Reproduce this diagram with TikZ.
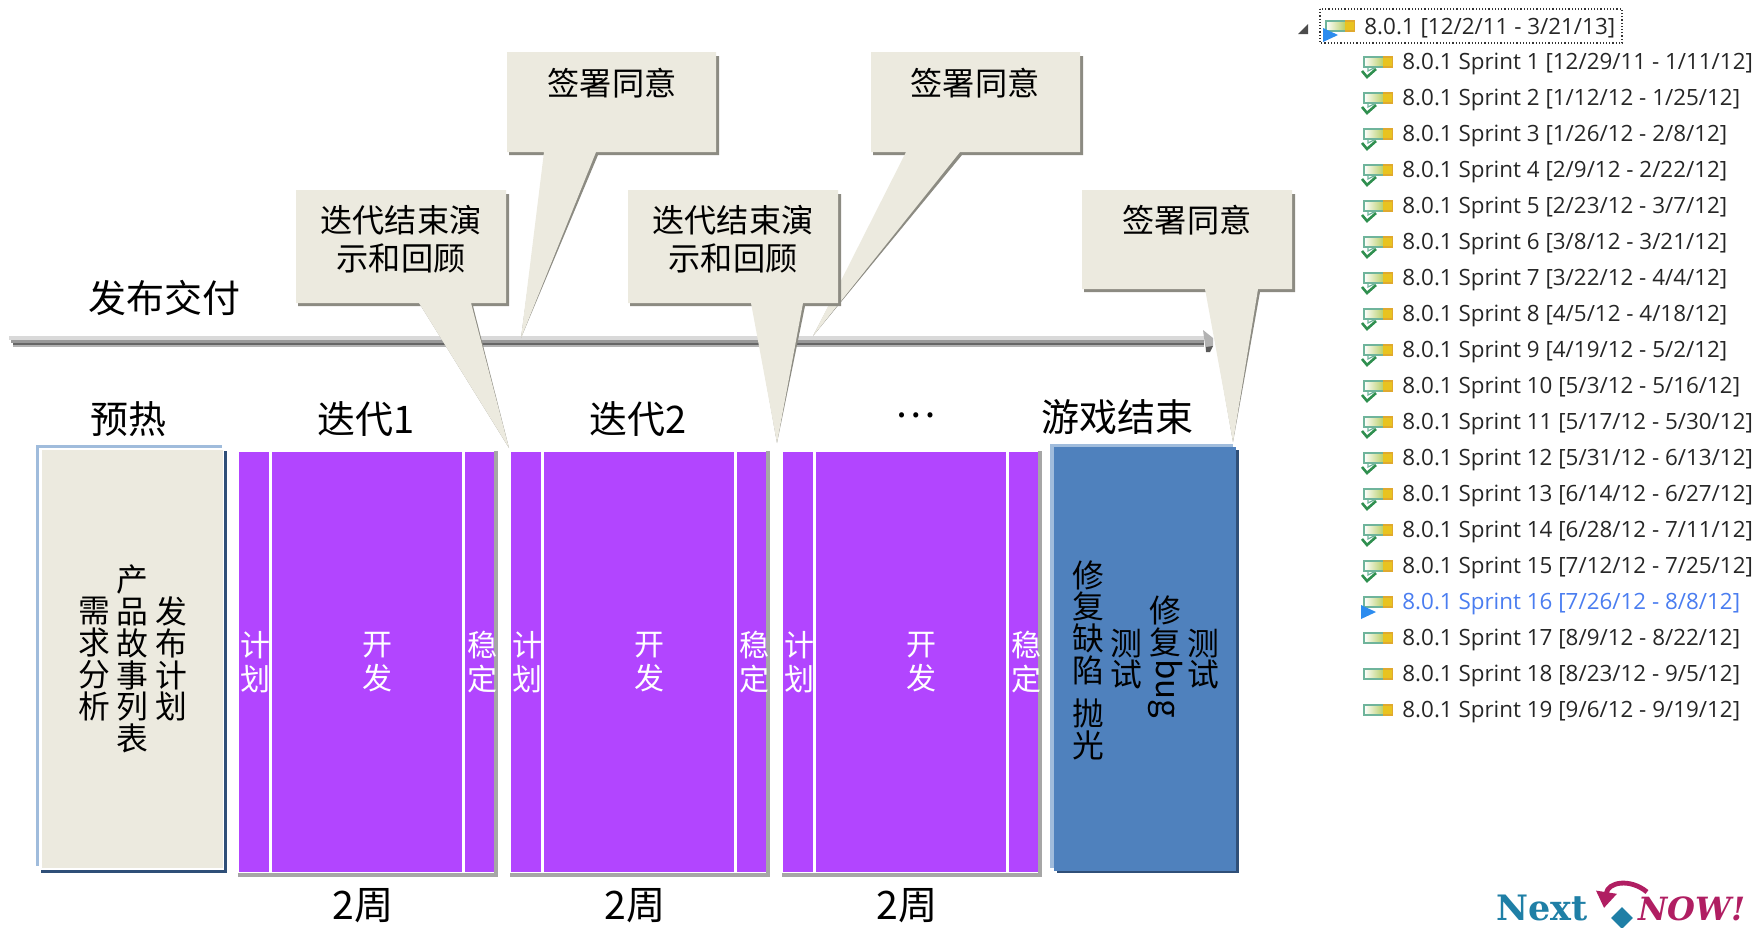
\documentclass[tikz,border=0pt]{standalone}
\usepackage{fontspec}
\newfontfamily\cjk{Noto Sans CJK SC}
\newfontfamily\treefont{Open Sans}
\newfontfamily\logofont{DejaVu Serif}
\usetikzlibrary{positioning,shapes.geometric,arrows.meta}
\definecolor{creamfill}{HTML}{ECEADF}
\definecolor{creamedge}{HTML}{8C8B82}
\definecolor{sprintfill}{HTML}{B245FF}
\definecolor{sprintedge}{HTML}{A6A6A6}
\definecolor{endfill}{HTML}{4F81BD}
\definecolor{lightedge}{HTML}{A0BCDC}
\definecolor{darkedge}{HTML}{2F4F78}
\definecolor{barteal}{HTML}{6FB49B}
\definecolor{barorange}{HTML}{E0A92E}
\definecolor{barmid}{HTML}{B9CF6B}
\definecolor{checkgreen}{HTML}{2F8F4F}
\definecolor{playblue}{HTML}{2C8CEF}
\definecolor{rowblue}{HTML}{4A7DF0}
\definecolor{logoblue}{HTML}{1F7FA6}
\definecolor{logored}{HTML}{B01E62}
\tikzset{
  heading/.style={font=\cjk\fontsize{19}{19}\selectfont,inner sep=0pt},
  bubble/.style={font=\cjk\fontsize{16.1}{19}\selectfont,inner sep=0pt,align=center},
  upright/.style={font=\cjk\fontsize{15.9}{15.9}\selectfont,inner sep=0pt,align=center},
  phase/.style={font=\cjk\fontsize{15}{16.8}\selectfont,inner sep=0pt,align=center,text=white},
  treerow/.style={font=\treefont\fontsize{11.2}{12}\selectfont,inner sep=0pt,anchor=west,text=black!85},
}
% one speech bubble: corners, then the two tail feet and the tip
\newcommand{\speech}[8]{
  \fill[creamedge] (#1+2,#2+4) -- (#3+3,#2+4) -- (#3+3,#4+3) -- (#6+2,#4+3) -- (#7,#8) -- (#5+2,#4+3) -- (#1+2,#4+3) -- cycle;
  \fill[creamfill] (#1,#2) -- (#3,#2) -- (#3,#4) -- (#6,#4) -- (#7,#8) -- (#5,#4) -- (#1,#4) -- cycle;
}
\newcommand{\sprintbar}[2]{
  \shade[left color=white,right color=barmid] (#1+1,#2-4.5) rectangle (#1+20,#2+4.5);
  \fill[barorange!70!yellow] (#1+20,#2-4.5) rectangle (#1+29,#2+4.5);
  \draw[barteal,line width=.7pt] (#1+20,#2-5) -- (#1+1,#2-5) -- (#1+1,#2+5) -- (#1+20,#2+5);
  \draw[barorange,line width=.7pt] (#1+20,#2-5) -- (#1+29.5,#2-5) -- (#1+29.5,#2+5) -- (#1+20,#2+5);
}
\begin{document}
\begin{tikzpicture}[x=.5pt,y=-.5pt]
\useasboundingbox (0,0) rectangle (1754,927);

% delivery line
\fill[black!15] (9,336) rectangle (1204,340);
\fill[black!40] (11,340) rectangle (1204,343);
\fill[black!60] (13,343) rectangle (1204,345);
\fill[black!30] (13,345) rectangle (1204,347);
\fill[black!30] (1203,330) -- (1213,338) -- (1213,346) -- (1206,352) -- cycle;
\fill[black!65] (1206,347) -- (1213,346) -- (1210,352) -- (1206,352) -- cycle;
\node (delivery) at (164,298) [heading] {发布交付};

% bubbles
\speech{871}{52}{1080}{152}{906}{960}{813}{336}
\speech{507}{52}{716}{152}{544}{596}{521}{338}
\speech{296}{190}{506}{303}{419}{471}{509}{448}
\speech{628}{190}{838}{303}{751}{803}{777}{443}
\speech{1082}{190}{1292}{289}{1205}{1258}{1233}{442}
\node (sign1) at (612,83) [bubble] {签署同意};
\node (sign2) at (975,83) [bubble] {签署同意};
\node (sign3) at (1187,220) [bubble] {签署同意};
\node (demo1) at (401,239) [bubble] {迭代结束演\\示和回顾};
\node (demo2) at (733,239) [bubble] {迭代结束演\\示和回顾};

% warm up box
\fill[lightedge] (36,445) rectangle (222,866);
\fill[darkedge] (41,451) rectangle (227,873);
\fill[white] (39,448) rectangle (224,870);
\fill[creamfill] (42,450) rectangle (223,868);
\node (warmup) at (128,419) [heading] {预热};
\node (release) at (171,659) [upright] {发\\布\\计\\划};
\node (backlog) at (132,659) [upright] {产\\品\\故\\事\\列\\表};
\node (analysis) at (94,659) [upright] {需\\求\\分\\析};

% sprints
\foreach \x/\t/\dx/\dy in {0/迭代1/1/0,1/迭代2/1/0,2/…/7/-4}
{
\fill[sprintedge] (238+\x*272,451) rectangle (498+\x*272,877);
\fill[white] (238+\x*272,451) rectangle (494+\x*272,873);
\fill[sprintfill] (239+\x*272,452) rectangle (269+\x*272,872);
\fill[sprintfill] (271.5+\x*272,452) rectangle (462+\x*272,872);
\fill[sprintfill] (464.5+\x*272,452) rectangle (494+\x*272,872);
\node (plan\x) at (255+\x*272,662) [phase] {计\\划};
\node (dev\x) at (377+\x*272,662) [phase] {开\\发};
\node (stable\x) at (482+\x*272,662) [phase] {稳\\定};
\node (title\x) at (365+\dx+\x*272,419+\dy) [heading] {\t};
\node (weeks\x) at (363+\x*272,906) [heading,font=\cjk\fontsize{19.6}{19.6}\selectfont] {2周};
}

% end of game box
\fill[lightedge] (1050,444) rectangle (1233,868);
\fill[darkedge] (1057,450) rectangle (1239,873);
\fill[endfill] (1054,447) rectangle (1236,871);
\node (ending) at (1117,417) [heading] {游戏结束};
\node (polish) at (1088,660) [upright] {修\\复\\缺\\陷\\[.35em]抛\\光};
\node (test1) at (1126,659) [upright] {测\\试};
\node (fix) at (1165,657) [upright] {修\\复\\\rotatebox[origin=c]{-90}{\fontsize{16.5}{16.5}\selectfont bug}};
\node (test2) at (1203,659) [upright] {测\\试};

% sprint tree
\fill[black!70] (1298,34) -- (1308,34) -- (1308,24) -- cycle;
\draw[densely dotted,black!80,line width=.6pt] (1320,9) rectangle (1622,43);
\sprintbar{1325}{26}
\fill[playblue] (1323,28) -- (1338,35) -- (1323,42) -- cycle;
\node (root) at (1364,28) [treerow] {8.0.1 [12/2/11 - 3/21/13]};
\foreach \n/\d in {1/{12/29/11 - 1/11/12},2/{1/12/12 - 1/25/12},3/{1/26/12 - 2/8/12},4/{2/9/12 - 2/22/12},5/{2/23/12 - 3/7/12},6/{3/8/12 - 3/21/12},7/{3/22/12 - 4/4/12},8/{4/5/12 - 4/18/12},9/{4/19/12 - 5/2/12},10/{5/3/12 - 5/16/12},11/{5/17/12 - 5/30/12},12/{5/31/12 - 6/13/12},13/{6/14/12 - 6/27/12},14/{6/28/12 - 7/11/12},15/{7/12/12 - 7/25/12},16/{7/26/12 - 8/8/12},17/{8/9/12 - 8/22/12},18/{8/23/12 - 9/5/12},19/{9/6/12 - 9/19/12}}
{
\pgfmathsetmacro{\rowy}{26+36*\n}
\sprintbar{1363}{\rowy}
\ifnum\n<16
\draw[barteal,line width=.6pt] (1368,\rowy+5) -- (1368,\rowy+9) -- (1376,\rowy+5);
\draw[checkgreen,line width=1.3pt] (1362,\rowy+9) -- (1367,\rowy+15) -- (1376,\rowy+7);
\fi
\ifnum\n=16
\fill[playblue] (1361,\rowy+3) -- (1376,\rowy+10) -- (1361,\rowy+17) -- cycle;
\node (row\n) at (1402,\rowy+2) [treerow,text=rowblue] {8.0.1 Sprint \n\ [\d]};
\else
\node (row\n) at (1402,\rowy+2) [treerow] {8.0.1 Sprint \n\ [\d]};
\fi
}

% logo
\node (lognext) at (1542,908) [font=\logofont\bfseries\fontsize{17.5}{17.5}\selectfont,text=logoblue,inner sep=0pt] {Next};
\node (lognow) at (1692,909) [font=\logofont\bfseries\itshape\fontsize{16}{16}\selectfont,text=logored,inner sep=0pt] {NOW!};
\draw[logored,line width=2.4pt,-{Triangle[length=8pt,width=10pt]}] (1647,892) .. controls (1630,878) and (1608,882) .. (1604,908);
\node (logospade) at (1622,918) [diamond,fill=logoblue,minimum size=11pt,inner sep=0pt] {};
\end{tikzpicture}
\end{document}
